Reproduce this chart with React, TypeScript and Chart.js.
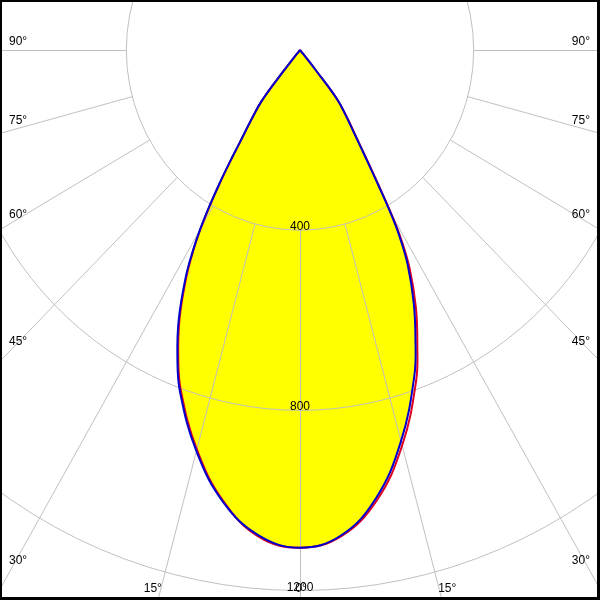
import React, { useEffect, useRef } from "react";
import { Chart, registerables } from "chart.js";

Chart.register(...registerables);

// Polar angles (degrees from nadir) at which intensities were read
const ANGLES = [0, 5, 10, 15, 20, 22.5, 25, 27.5, 29, 30, 31, 32, 33, 34, 36, 38, 39, 40, 42];
// Blue curve (C90 right / C270 left), cd
const C90 = [1105, 1082, 1010, 899, 770, 695, 620, 537, 472, 416, 351, 298, 257, 225, 180, 140, 60, 10, 0];
const C270 = [1105, 1082, 1019, 922, 808, 738, 661, 571, 508, 461, 407, 352, 298, 250, 190, 142, 62, 12, 0];
// Red curve (C0 right / C180 left), cd
const C0 = [1105, 1084, 1016, 909, 782, 706, 632, 547, 481, 423, 357, 303, 261, 228, 182, 140, 60, 10, 0];
const C180 = [1105, 1085, 1017, 918, 803, 733, 656, 566, 504, 457, 404, 349, 296, 248, 189, 142, 62, 12, 0];

// Grid
const RING_VALUES = [400, 800, 1200];
const RING_LABELS = ["400", "800", "1200"];
const GRID_ANGLES = [0, 15, 30, 45, 60, 75, 90];
const ANGLE_LABELS = ["0°", "15°", "30°", "45°", "60°", "75°", "90°"];

// Visible window (cd)
const X_MIN = -691;
const X_MAX = 691;
const Y_MIN = -1221;
const Y_MAX = 111;

const GRID_COLOR = "#c0c0c0";
const FONT = "12px 'Liberation Sans'";

function toPoints(left: number[], right: number[]) {
  const pts: { x: number; y: number }[] = [];
  for (let i = ANGLES.length - 1; i >= 0; i--) {
    const a = (ANGLES[i] * Math.PI) / 180;
    pts.push({ x: -left[i] * Math.sin(a), y: -left[i] * Math.cos(a) });
  }
  for (let i = 1; i < ANGLES.length; i++) {
    const a = (ANGLES[i] * Math.PI) / 180;
    pts.push({ x: right[i] * Math.sin(a), y: -right[i] * Math.cos(a) });
  }
  return pts;
}

const gridPlugin = {
  id: "polarGrid",
  afterDatasetDraw(chart: any, args: any) {
    if (args.index !== 0) return;
    const ctx = chart.ctx;
    const xs = chart.scales.x;
    const ys = chart.scales.y;
    const area = chart.chartArea;
    const cx = xs.getPixelForValue(0);
    const cy = ys.getPixelForValue(0);
    ctx.save();
    ctx.beginPath();
    ctx.rect(area.left, area.top, area.right - area.left, area.bottom - area.top);
    ctx.clip();
    ctx.strokeStyle = GRID_COLOR;
    ctx.lineWidth = 1;
    RING_VALUES.forEach((v) => {
      const rx = xs.getPixelForValue(v) - cx;
      const ry = ys.getPixelForValue(-v) - cy;
      ctx.beginPath();
      ctx.ellipse(cx, cy, rx, ry, 0, 0, Math.PI * 2);
      ctx.stroke();
    });
    const inner = RING_VALUES[0];
    const outer = 5000;
    GRID_ANGLES.forEach((deg) => {
      const sides = deg === 0 ? [1] : [-1, 1];
      const a = (deg * Math.PI) / 180;
      sides.forEach((s) => {
        let x1 = xs.getPixelForValue(s * Math.sin(a) * inner);
        let y1 = ys.getPixelForValue(-Math.cos(a) * inner);
        let x2 = xs.getPixelForValue(s * Math.sin(a) * outer);
        let y2 = ys.getPixelForValue(-Math.cos(a) * outer);
        if (deg === 0) { x1 += 0.5; x2 += 0.5; }
        if (deg === 90) { y1 += 0.5; y2 += 0.5; }
        ctx.beginPath();
        ctx.moveTo(x1, y1);
        ctx.lineTo(x2, y2);
        ctx.stroke();
      });
    });

    ctx.fillStyle = "#000";
    ctx.font = FONT;
    // ring labels
    ctx.textAlign = "center";
    ctx.textBaseline = "alphabetic";
    RING_VALUES.forEach((v, i) => {
      const y = ys.getPixelForValue(-v);
      ctx.fillText(RING_LABELS[i], cx, y);
    });
    // angle labels
    GRID_ANGLES.forEach((deg, i) => {
      const sides = deg === 0 ? [1] : [-1, 1];
      const a = (deg * Math.PI) / 180;
      sides.forEach((s) => {
        const R = 1000;
        const dx = (xs.getPixelForValue(s * Math.sin(a) * R) - cx) / R;
        const dy = (ys.getPixelForValue(-Math.cos(a) * R) - cy) / R;
        const tx = Math.abs(dx) > 1e-9 ? (s > 0 ? (area.right - cx) / dx : (area.left - cx) / dx) : Infinity;
        const ty = dy > 1e-9 ? (area.bottom - cy) / dy : Infinity;
        if (tx < ty) {
          const xRef = s < 0 ? area.left + 18 : area.right - 18;
          const t = (xRef - cx) / dx;
          const c = Math.cos(a);
          const yc = cy + dy * t - (8.5 - 16 * c * c);
          ctx.textBaseline = "middle";
          if (s < 0) {
            ctx.textAlign = "left";
            ctx.fillText(ANGLE_LABELS[i], area.left + 9, yc);
          } else {
            ctx.textAlign = "right";
            ctx.fillText(ANGLE_LABELS[i], area.right - 10, yc);
          }
        } else {
          const yb = area.bottom - 11;
          const t = (yb - cy) / dy;
          const xc = cx + dx * t + (deg === 0 ? 1 : s * 8);
          ctx.textAlign = "center";
          ctx.textBaseline = "alphabetic";
          ctx.fillText(ANGLE_LABELS[i], xc, area.bottom - 8);
        }
      });
    });
    ctx.restore();
  },
};

const borderPlugin = {
  id: "frameBorder",
  afterDraw(chart: any) {
    const ctx = chart.ctx;
    const w = chart.width;
    const h = chart.height;
    ctx.save();
    ctx.fillStyle = "#000";
    ctx.fillRect(0, 0, w, 2);
    ctx.fillRect(0, 0, 2, h);
    ctx.fillRect(w - 3, 0, 3, h);
    ctx.fillRect(0, h - 3, w, 3);
    ctx.restore();
  },
};

export default function App() {
  const ref = useRef<HTMLCanvasElement | null>(null);
  useEffect(() => {
    if (!ref.current) return;
    const bluePts = toPoints(C270, C90);
    const redPts = toPoints(C180, C0);
    const TENSION = 0.4;
    const chart = new Chart(ref.current, {
      type: "scatter",
      data: {
        datasets: [
          {
            label: "fill",
            data: bluePts,
            showLine: true,
            fill: "shape",
            backgroundColor: "#ffff00",
            borderColor: "rgba(0,0,0,0)",
            borderWidth: 0,
            pointRadius: 0,
            tension: TENSION,
            order: 3,
          },
          {
            label: "C0-C180",
            data: redPts,
            showLine: true,
            fill: false,
            borderColor: "#dd0022",
            borderWidth: 2,
            pointRadius: 0,
            tension: TENSION,
            order: 2,
          },
          {
            label: "C90-C270",
            data: bluePts,
            showLine: true,
            fill: false,
            borderColor: "#0000cc",
            borderWidth: 2,
            pointRadius: 0,
            tension: TENSION,
            order: 1,
          },
        ],
      },
      options: {
        animation: false,
        responsive: false,
        maintainAspectRatio: false,
        devicePixelRatio: 1,
        layout: { padding: 0 },
        plugins: { legend: { display: false }, tooltip: { enabled: false } },
        scales: {
          x: { type: "linear", min: X_MIN, max: X_MAX, display: false },
          y: { type: "linear", min: Y_MIN, max: Y_MAX, display: false },
        },
      },
      plugins: [gridPlugin, borderPlugin],
    });
    return () => chart.destroy();
  }, []);
  return (
    <div style={{ position: "fixed", left: 0, top: 0, width: 600, height: 600, background: "#fff" }}>
      <canvas ref={ref} width={600} height={600} style={{ display: "block" }} />
    </div>
  );
}
